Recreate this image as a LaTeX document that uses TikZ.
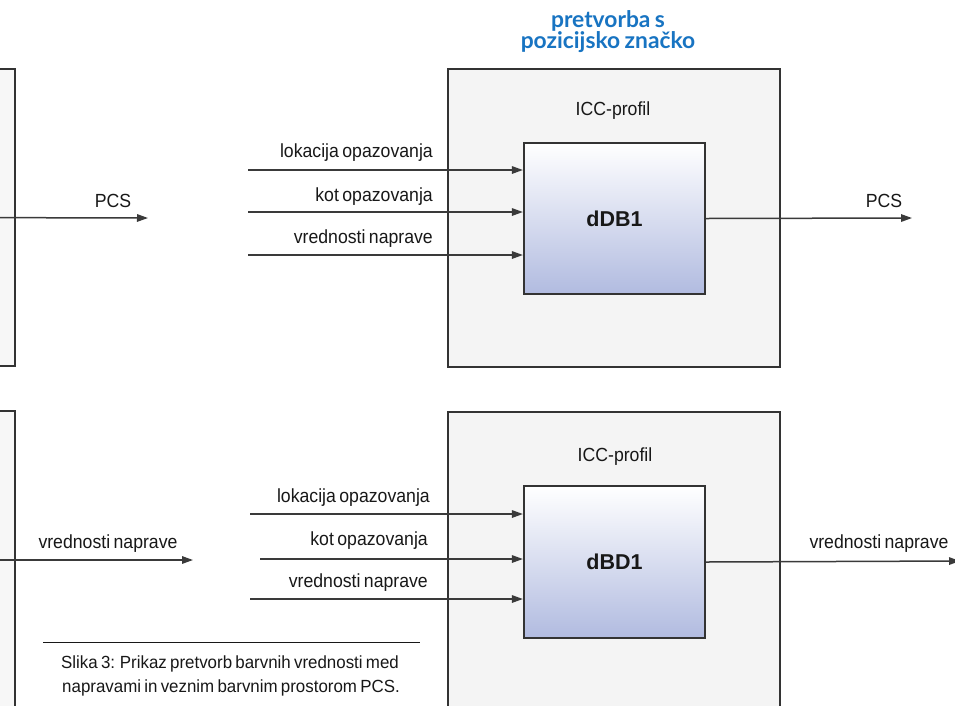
\documentclass[tikz,border=0pt]{standalone}
\usepackage{fontspec}
\setmainfont{Liberation Sans}[FakeStretch=0.93, WordSpace=0.7]
\newfontfamily\blockfont{Liberation Sans}
\newfontfamily\capfont{Liberation Sans}[FakeStretch=0.96, WordSpace=0.7]
\newfontfamily\titlefont{Lato}[WordSpace=0.8]
\usetikzlibrary{arrows.meta}

\definecolor{framegray}{HTML}{333333}
\definecolor{linegray}{HTML}{3A3A3A}
\definecolor{panelgray}{HTML}{F4F4F4}
\definecolor{blockblue}{HTML}{B1BBE0}
\definecolor{titleblue}{HTML}{1874C2}
\definecolor{textgray}{HTML}{181818}

\tikzset{
  panelbox/.style={draw=framegray, line width=1.8pt, fill=panelgray, inner sep=0pt},
  sidebox/.style={draw=framegray, line width=1.8pt, left color=panelgray, right color=white!97!black, inner sep=0pt},
  block/.style={draw=framegray, line width=2.2pt, top color=white, bottom color=blockblue,
    font=\blockfont\fontsize{21.5}{24}\selectfont\bfseries, text=textgray,
    minimum width=181pt, minimum height=151pt, inner sep=0pt},
  flow/.style={draw=linegray, line width=1.5pt, -{Triangle[length=11pt,width=7.5pt]}},
  lbl/.style={font=\fontsize{19}{22}\selectfont, inner sep=0pt, anchor=base east, text=textgray},
  clbl/.style={font=\fontsize{19}{22}\selectfont, inner sep=0pt, anchor=base, text=textgray},
  captxt/.style={font=\capfont\fontsize{17.6}{20}\selectfont, inner sep=0pt, anchor=base, text=textgray},
  ttl/.style={font=\titlefont\fontsize{22.8}{25}\selectfont\bfseries, inner sep=0pt, anchor=base, text=titleblue},
}

\begin{document}
\begin{tikzpicture}[x=1pt, y=-1pt]
  \useasboundingbox (0,0) rectangle (955,705);
  \clip (0,0) rectangle (955,705);
  \fill[white] (0,0) rectangle (955,705);

  % ---------- upper row: device -> PCS ----------
  \node[sidebox, minimum width=130pt, minimum height=297pt] (devA) at (-50,217.5) {};
  \coordinate (pcsA) at (148,218);
  \draw[flow] (devA.center) -- (pcsA);
  \node[clbl] (pcsAlbl) at (113,207) {PCS};

  \node[panelbox, minimum width=332pt, minimum height=298pt] (iccA) at (614,218) {};
  \node[clbl] (iccAlbl) at (613,115) {ICC-profil};
  \node[block] (dDB) at (614.5,218.5) {dDB1};

  \node[ttl] (ttlA) at (608,27) {pretvorba s};
  \node[ttl] (ttlB) at (608,48) {pozicijsko značko};

  \coordinate (inA1) at (248,170);
  \coordinate (inA2) at (248,212);
  \coordinate (inA3) at (248,255);
  \draw[flow] (inA1) -- (inA1 -| dDB.west);
  \draw[flow] (inA2) -- (inA2 -| dDB.west);
  \draw[flow] (inA3) -- (inA3 -| dDB.west);
  \node[lbl] (labA1) at (433,157) {lokacija opazovanja};
  \node[lbl] (labA2) at (433,201) {kot opazovanja};
  \node[lbl] (labA3) at (433,243) {vrednosti naprave};

  \coordinate (outA) at (912,218);
  \draw[flow] (dDB.east) -- (outA);
  \node[clbl] (outAlbl) at (884,207) {PCS};

  % ---------- lower row: PCS -> device ----------
  \node[sidebox, minimum width=130pt, minimum height=298pt] (devB) at (-50,560) {};
  \coordinate (valB) at (193,560);
  \draw[flow] (devB.center) -- (valB);
  \node[clbl] (valBlbl) at (108,548) {vrednosti naprave};

  \node[panelbox, minimum width=332pt, minimum height=310pt] (iccB) at (614,567) {};
  \node[clbl] (iccBlbl) at (615,461) {ICC-profil};
  \node[block, minimum height=152pt] (dBD) at (614.5,562) {dBD1};

  \coordinate (inB1) at (250,514);
  \coordinate (inB2) at (260,559);
  \coordinate (inB3) at (250,599);
  \draw[flow] (inB1) -- (inB1 -| dBD.west);
  \draw[flow] (inB2) -- (inB2 -| dBD.west);
  \draw[flow] (inB3) -- (inB3 -| dBD.west);
  \node[lbl] (labB1) at (430,502) {lokacija opazovanja};
  \node[lbl] (labB2) at (428,545) {kot opazovanja};
  \node[lbl] (labB3) at (428,587) {vrednosti naprave};

  \coordinate (outB) at (960,561);
  \draw[flow] (dBD.east) -- (outB);
  \node[clbl] (outBlbl) at (879,548) {vrednosti naprave};

  % ---------- caption ----------
  \coordinate (capL) at (43,642);
  \coordinate (capR) at (420,642);
  \draw[draw=textgray, line width=1pt] (capL) -- (capR);
  \node[captxt] (cap1) at (230,668) {Slika 3: Prikaz pretvorb barvnih vrednosti med};
  \node[captxt] (cap2) at (231,692) {napravami in veznim barvnim prostorom PCS.};
\end{tikzpicture}
\end{document}
